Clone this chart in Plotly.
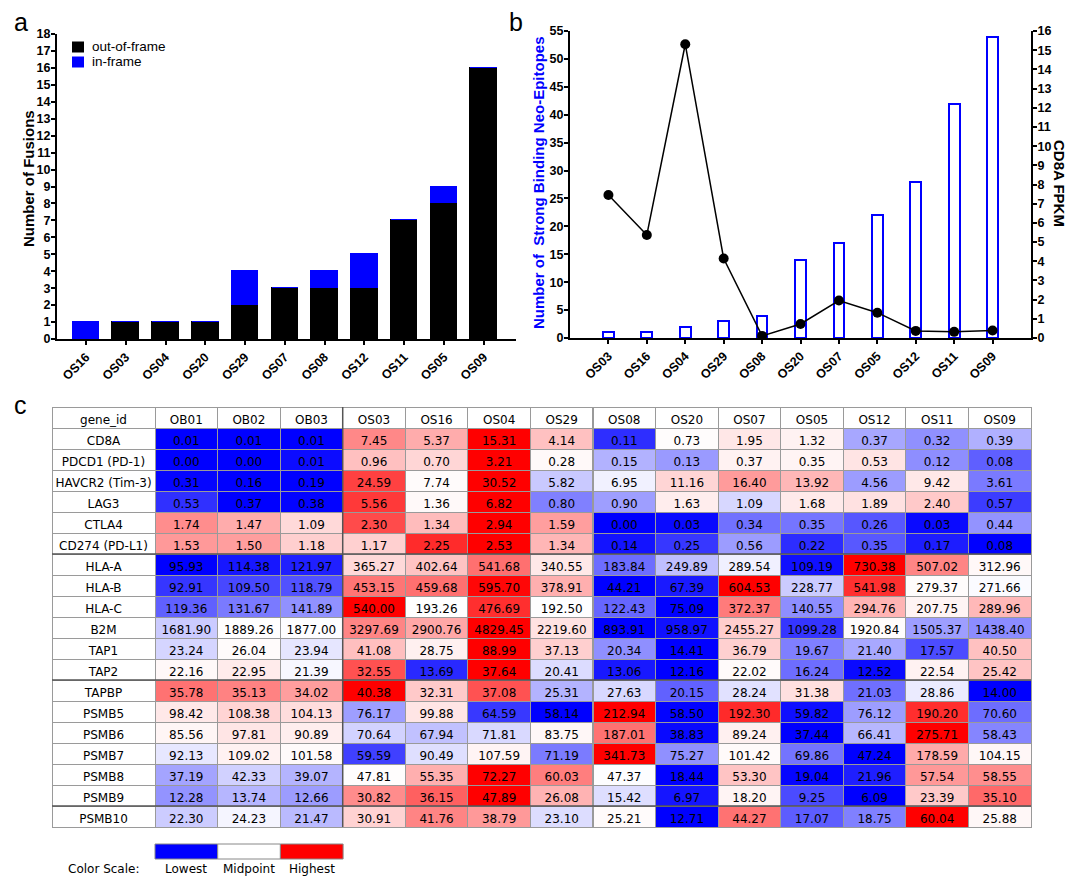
import numpy as np
import plotly.graph_objects as go

# The page body has an 8px margin on the top/left; size the figure so it reaches the window's edges.
OFF = 8
W, H = 1077 - OFF, 877 - OFF

# ---------------- Panel a data ----------------
fus_samples = ["OS16", "OS03", "OS04", "OS20", "OS29", "OS07", "OS08", "OS12", "OS11", "OS05", "OS09"]
out_of_frame = [0, 1, 1, 1, 2, 3, 3, 3, 7, 8, 16]
in_frame = [1, 0, 0, 0, 2, 0, 1, 2, 0, 1, 0]
fus_series = ["out-of-frame", "in-frame"]

# ---------------- Panel b data ----------------
neo_samples = ["OS03", "OS16", "OS04", "OS29", "OS08", "OS20", "OS07", "OS05", "OS12", "OS11", "OS09"]
neo_epitopes = [1, 1, 2, 3, 4, 14, 17, 22, 28, 42, 54]
cd8a_fpkm = [7.45, 5.37, 15.31, 4.14, 0.11, 0.73, 1.95, 1.32, 0.37, 0.32, 0.39]

# ---------------- Panel c data ----------------
hm_columns = ["OB01", "OB02", "OB03", "OS03", "OS16", "OS04", "OS29", "OS08", "OS20", "OS07", "OS05", "OS12", "OS11", "OS09"]
genes = ["CD8A", "PDCD1 (PD-1)", "HAVCR2 (Tim-3)", "LAG3", "CTLA4", "CD274 (PD-L1)", "HLA-A", "HLA-B", "HLA-C",
         "B2M", "TAP1", "TAP2", "TAPBP", "PSMB5", "PSMB6", "PSMB7", "PSMB8", "PSMB9", "PSMB10"]
CD8A = [0.01, 0.01, 0.01, 7.45, 5.37, 15.31, 4.14, 0.11, 0.73, 1.95, 1.32, 0.37, 0.32, 0.39]
PDCD1 = [0.00, 0.00, 0.01, 0.96, 0.70, 3.21, 0.28, 0.15, 0.13, 0.37, 0.35, 0.53, 0.12, 0.08]
HAVCR2 = [0.31, 0.16, 0.19, 24.59, 7.74, 30.52, 5.82, 6.95, 11.16, 16.40, 13.92, 4.56, 9.42, 3.61]
LAG3 = [0.53, 0.37, 0.38, 5.56, 1.36, 6.82, 0.80, 0.90, 1.63, 1.09, 1.68, 1.89, 2.40, 0.57]
CTLA4 = [1.74, 1.47, 1.09, 2.30, 1.34, 2.94, 1.59, 0.00, 0.03, 0.34, 0.35, 0.26, 0.03, 0.44]
CD274 = [1.53, 1.50, 1.18, 1.17, 2.25, 2.53, 1.34, 0.14, 0.25, 0.56, 0.22, 0.35, 0.17, 0.08]
HLA_A = [95.93, 114.38, 121.97, 365.27, 402.64, 541.68, 340.55, 183.84, 249.89, 289.54, 109.19, 730.38, 507.02, 312.96]
HLA_B = [92.91, 109.50, 118.79, 453.15, 459.68, 595.70, 378.91, 44.21, 67.39, 604.53, 228.77, 541.98, 279.37, 271.66]
HLA_C = [119.36, 131.67, 141.89, 540.00, 193.26, 476.69, 192.50, 122.43, 75.09, 372.37, 140.55, 294.76, 207.75, 289.96]
B2M = [1681.90, 1889.26, 1877.00, 3297.69, 2900.76, 4829.45, 2219.60, 893.91, 958.97, 2455.27, 1099.28, 1920.84, 1505.37, 1438.40]
TAP1 = [23.24, 26.04, 23.94, 41.08, 28.75, 88.99, 37.13, 20.34, 14.41, 36.79, 19.67, 21.40, 17.57, 40.50]
TAP2 = [22.16, 22.95, 21.39, 32.55, 13.69, 37.64, 20.41, 13.06, 12.16, 22.02, 16.24, 12.52, 22.54, 25.42]
TAPBP = [35.78, 35.13, 34.02, 40.38, 32.31, 37.08, 25.31, 27.63, 20.15, 28.24, 31.38, 21.03, 28.86, 14.00]
PSMB5 = [98.42, 108.38, 104.13, 76.17, 99.88, 64.59, 58.14, 212.94, 58.50, 192.30, 59.82, 76.12, 190.20, 70.60]
PSMB6 = [85.56, 97.81, 90.89, 70.64, 67.94, 71.81, 83.75, 187.01, 38.83, 89.24, 37.44, 66.41, 275.71, 58.43]
PSMB7 = [92.13, 109.02, 101.58, 59.59, 90.49, 107.59, 71.19, 341.73, 75.27, 101.42, 69.86, 47.24, 178.59, 104.15]
PSMB8 = [37.19, 42.33, 39.07, 47.81, 55.35, 72.27, 60.03, 47.37, 18.44, 53.30, 19.04, 21.96, 57.54, 58.55]
PSMB9 = [12.28, 13.74, 12.66, 30.82, 36.15, 47.89, 26.08, 15.42, 6.97, 18.20, 9.25, 6.09, 23.39, 35.10]
PSMB10 = [22.30, 24.23, 21.47, 30.91, 41.76, 38.79, 23.10, 25.21, 12.71, 44.27, 17.07, 18.75, 60.04, 25.88]
rows = [CD8A, PDCD1, HAVCR2, LAG3, CTLA4, CD274, HLA_A, HLA_B, HLA_C, B2M, TAP1, TAP2, TAPBP,
        PSMB5, PSMB6, PSMB7, PSMB8, PSMB9, PSMB10]

scale_labels = ["Lowest", "Midpoint", "Highest"]


def px_x(p):
    return (p - OFF) / W


def px_y(p):
    return 1 - (p - OFF) / H


def row_colors(vals):
    v = np.array(vals, dtype=float)
    lo, mid, hi = v.min(), np.percentile(v, 50), v.max()
    out = []
    for x in v:
        if x <= mid:
            t = 0.0 if mid == lo else (x - lo) / (mid - lo)
            c = (round(255 * t), round(255 * t), 255)
        else:
            t = 0.0 if hi == mid else (x - mid) / (hi - mid)
            c = (255, round(255 * (1 - t)), round(255 * (1 - t)))
        out.append("rgb(%d,%d,%d)" % c)
    return out


fig = go.Figure()

ARIAL = "Liberation Sans, Arial, sans-serif"
VERD = "DejaVu Sans, Verdana, sans-serif"
BOLD = dict(family=ARIAL, size=12.5, color="black", weight="bold")
FUS_COLORS = ["black", "#0000ff"]

# ---------- Panel a ----------
for name, vals, col in zip(fus_series, [out_of_frame, in_frame], FUS_COLORS):
    fig.add_trace(go.Bar(x=fus_samples, y=vals, name=name, showlegend=False,
                         marker=dict(color=col, line=dict(color=col, width=1)),
                         width=0.67, xaxis="x", yaxis="y"))

# ---------- Panel b ----------
fig.add_trace(go.Bar(x=neo_samples, y=neo_epitopes, name="neo", showlegend=False,
                     marker=dict(color="white", line=dict(color="#0000ff", width=2)),
                     width=0.28, xaxis="x2", yaxis="y2"))
fig.add_trace(go.Scatter(x=neo_samples, y=cd8a_fpkm, mode="lines+markers", showlegend=False,
                         line=dict(color="black", width=1.5), marker=dict(color="black", size=10),
                         xaxis="x2", yaxis="y3"))

# ---------- Panel c (table) ----------
gene_text = [g.replace(" ", "\u00a0") for g in genes]
cell_text = [gene_text] + [["%.2f" % rows[r][c] for r in range(len(genes))] for c in range(len(hm_columns))]
col_colors = [["white"] * len(genes)]
per_row = [row_colors(r) for r in rows]
for c in range(len(hm_columns)):
    col_colors.append([per_row[r][c] for r in range(len(genes))])

tbl_left, tbl_right, tbl_top, row_h = 52, 1031, 407, 21
n_rows = len(genes) + 1
tbl_bottom = tbl_top + row_h * n_rows
gene_w = 103
data_w = (tbl_right - tbl_left - gene_w) / len(hm_columns)

fig.add_trace(go.Table(
    domain=dict(x=[px_x(tbl_left), px_x(tbl_right)], y=[px_y(tbl_bottom + 6), px_y(tbl_top)]),
    columnwidth=[gene_w] + [data_w] * len(hm_columns),
    header=dict(values=["gene_id"] + hm_columns, fill_color="white", height=row_h,
                line=dict(color="#9a9a9a", width=1),
                font=dict(family=VERD, size=12, color="black"), align="center"),
    cells=dict(values=cell_text, fill_color=col_colors, height=row_h,
               line=dict(color="#9a9a9a", width=1),
               font=dict(family=VERD, size=12, color="black"), align="center"),
))

shapes = []
sep_x = tbl_left + gene_w + 3 * data_w
shapes.append(dict(type="line", xref="paper", yref="paper", x0=px_x(sep_x), x1=px_x(sep_x),
                   y0=px_y(tbl_top), y1=px_y(tbl_bottom), line=dict(color="#555", width=1.5)))
for r in [7, 13, 19]:
    yy = tbl_top + row_h * r
    shapes.append(dict(type="line", xref="paper", yref="paper", x0=px_x(tbl_left), x1=px_x(tbl_right),
                       y0=px_y(yy), y1=px_y(yy), line=dict(color="#555", width=1.5)))

annotations = []

# panel a legend (swatches + labels)
for i, (name, col) in enumerate(zip(fus_series, FUS_COLORS)):
    yc = 47 + 15 * i
    shapes.append(dict(type="rect", xref="paper", yref="paper", x0=px_x(72), x1=px_x(84),
                       y0=px_y(yc + 5.5), y1=px_y(yc - 5.5), fillcolor=col, line=dict(width=0)))
    annotations.append(dict(text=name, x=px_x(90), y=px_y(yc), xref="paper", yref="paper", showarrow=False,
                            xanchor="left", yanchor="middle", font=dict(family=ARIAL, size=13.5, color="black")))

# colour-scale key
key_colors = ["#0000ff", "#ffffff", "#ff0000"]
key_x0, key_w, key_y0, key_y1 = 155, 62.7, 844, 859
for i, (lab, col) in enumerate(zip(scale_labels, key_colors)):
    x0 = key_x0 + i * key_w
    shapes.append(dict(type="rect", xref="paper", yref="paper", x0=px_x(x0), x1=px_x(x0 + key_w),
                       y0=px_y(key_y1), y1=px_y(key_y0), fillcolor=col, line=dict(color="#888", width=1)))
    annotations.append(dict(text=lab, x=px_x(x0 + key_w / 2), y=px_y(869), xref="paper", yref="paper",
                            showarrow=False, xanchor="center", yanchor="middle",
                            font=dict(family=VERD, size=12, color="black")))
annotations.append(dict(text="Color Scale:", x=px_x(103), y=px_y(869), xref="paper", yref="paper",
                        showarrow=False, xanchor="center", yanchor="middle",
                        font=dict(family=VERD, size=12, color="black")))

# panel letters
for txt, x, y in [("a", 21, 22), ("b", 516, 22), ("c", 20, 405)]:
    annotations.append(dict(text=txt, x=px_x(x), y=px_y(y), xref="paper", yref="paper", showarrow=False,
                            xanchor="center", yanchor="middle",
                            font=dict(family=ARIAL, size=25, color="black")))

# axis titles
annotations.append(dict(text="Number of Fusions", x=px_x(28), y=px_y(179), xref="paper", yref="paper",
                        showarrow=False, textangle=-90, xanchor="center", yanchor="middle",
                        font=dict(family=ARIAL, size=15, color="black", weight="bold")))
annotations.append(dict(text="Number of  Strong Binding Neo-Epitopes", x=px_x(538), y=px_y(183), xref="paper",
                        yref="paper", showarrow=False, textangle=-90, xanchor="center", yanchor="middle",
                        font=dict(family=ARIAL, size=15, color="#0000ff", weight="bold")))
annotations.append(dict(text="CD8A FPKM", x=px_x(1060), y=px_y(183), xref="paper", yref="paper", showarrow=False,
                        textangle=90, xanchor="center", yanchor="middle",
                        font=dict(family=ARIAL, size=15, color="black", weight="bold")))

axis_common = dict(showline=True, linecolor="black", linewidth=2, ticks="outside", ticklen=4, tickwidth=2,
                   tickcolor="black", showgrid=False, zeroline=False, tickfont=BOLD, automargin=False)

fig.update_layout(
    width=W, height=H, margin=dict(l=0, r=0, t=0, b=0),
    paper_bgcolor="white", plot_bgcolor="white",
    barmode="stack", bargap=0,
    showlegend=False,
    xaxis=dict(domain=[px_x(57), px_x(515.5)], anchor="y", range=[-0.73, 10.8], tickangle=-45, **axis_common),
    yaxis=dict(domain=[px_y(339), px_y(34)], anchor="x", range=[0, 18], dtick=1, ticklabelstandoff=-2,
               **axis_common),
    xaxis2=dict(domain=[px_x(570), px_x(1031)], anchor="y2", range=[-1, 11], tickangle=-45, **axis_common),
    yaxis2=dict(domain=[px_y(338), px_y(31)], anchor="x2", range=[0, 55], dtick=5, ticklabelstandoff=-2,
                **axis_common),
    yaxis3=dict(domain=[px_y(338), px_y(31)], anchor="x2", overlaying="y2", side="right", range=[0, 16], dtick=1,
                ticklabelstandoff=-2, **axis_common),
    shapes=shapes,
    annotations=annotations,
)

fig.write_html("out.html")
